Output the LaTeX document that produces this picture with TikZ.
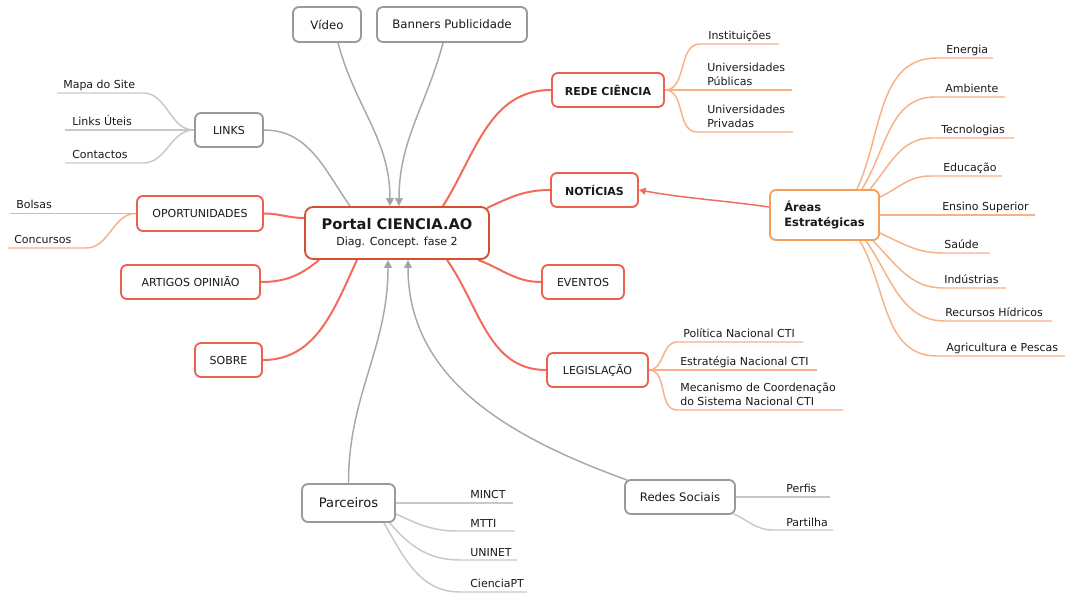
\documentclass[tikz,border=0pt]{standalone}
\usepackage{fontspec}
\setmainfont{DejaVu Sans}
\usetikzlibrary{arrows.meta,calc}
\definecolor{redln}{HTML}{F26B5B}
\definecolor{redbd}{HTML}{EC604E}
\definecolor{ctrbd}{HTML}{D4512F}
\definecolor{graybd}{HTML}{9A9A9A}
\definecolor{grayln}{HTML}{A8A8A8}
\definecolor{grayleaf}{HTML}{C8C8C8}
\definecolor{orgbd}{HTML}{F4A05C}
\definecolor{orgln}{HTML}{F6B187}
\pgfdeclarelayer{bg}\pgfsetlayers{bg,main}
% #1 style, #2 start, #3 out angle, #4 name, #5 curve end x, #6 line end x, #7 line y
\newcommand{\twig}[7]{%
  \coordinate (#4s) at (#5,#7);
  \coordinate (#4e) at (#6,#7);
  \draw[#1] (#2) to[out=#3,in=180] (#4s) -- (#4e);}
\newcommand{\twigL}[6]{%
  \coordinate (#3s) at (#4,#6);
  \coordinate (#3e) at (#5,#6);
  \draw[#1] (#2) to[out=180,in=0] (#3s) -- (#3e);}
\begin{document}
\begin{tikzpicture}[x=0.75pt,y=-0.75pt,
  every node/.style={font=\fontsize{8.25}{10.5}\selectfont, text=black!90},
  box/.style={draw, rounded corners=4.5pt, fill=white, line width=1.4pt, inner sep=0pt, align=center},
  sz/.style 2 args={minimum width=#1*0.75pt, minimum height=#2*0.75pt},
  rbox/.style={box, draw=redbd},
  gbox/.style={box, draw=graybd},
  obox/.style={box, draw=orgbd},
  leaf/.style={anchor=base west, inner sep=0pt, align=left},
  rln/.style={draw=redln, line width=1.5pt},
  gln/.style={draw=grayln, line width=1.1pt},
  garr/.style={draw=grayln, line width=1.1pt, -{Triangle[length=6pt,width=6pt,fill=graybd]}},
  rarr/.style={draw=redln, line width=1.1pt, -{Triangle[length=5pt,width=5pt]}},
  gtw/.style={draw=grayleaf, line width=1.1pt},
  otw/.style={draw=orgln, line width=1.1pt},
  big/.style={font=\fontsize{8.8}{10.5}\selectfont},
  bold/.style={font=\fontsize{8.25}{10.5}\selectfont\bfseries}
]
\useasboundingbox (0,0) rectangle (1067,596);

% main boxes
\node[box, draw=ctrbd, sz={184}{52}, rounded corners=6pt] (ctr) at (397,233)
  {{\fontsize{11}{13}\selectfont\bfseries Portal CIENCIA.AO}\\[2pt]{\fontsize{8.3}{10}\selectfont Diag. Concept. fase 2}};
\node[gbox, sz={68}{35}, big] (vid) at (327,24.5) {Vídeo};
\node[gbox, sz={150}{35}, big] (ban) at (452,24.5) {Banners Publicidade};
\node[gbox, sz={68}{34}] (links) at (229,130) {LINKS};
\node[rbox, sz={126}{35}] (opo) at (200,213.5) {OPORTUNIDADES};
\node[rbox, sz={139}{34}] (art) at (190.5,282) {ARTIGOS OPINIÃO};
\node[rbox, sz={67}{34}] (sob) at (228.5,360) {SOBRE};
\node[rbox, sz={112}{34}, bold] (rede) at (608,90) {REDE CIÊNCIA};
\node[rbox, sz={87}{34}, bold] (not) at (594.5,190) {NOTÍCIAS};
\node[rbox, sz={82}{34}] (eve) at (583,282) {EVENTOS};
\node[rbox, sz={101}{34}] (leg) at (597.5,370) {LEGISLAÇÃO};
\node[obox, sz={109}{50}, font=\fontsize{8.6}{11}\selectfont\bfseries, align=left] (are) at (824.5,215) {Áreas\\Estratégicas};
\node[gbox, sz={93}{38}, font=\fontsize{9.8}{12}\selectfont] (par) at (348.5,503) {Parceiros};
\node[gbox, sz={110}{34}, big] (red) at (680,497) {Redes Sociais};

% leaf texts
\node[leaf] (tmap) at (63,88) {Mapa do Site};
\node[leaf] (tlin) at (72,125) {Links Úteis};
\node[leaf] (tcon) at (72,158) {Contactos};
\node[leaf] (tbol) at (16,208) {Bolsas};
\node[leaf] (tcnc) at (14,243) {Concursos};
\node[leaf] (tins) at (708,39.5) {Instituições};
\node[leaf] (tupu) at (707,85) {Universidades\\Públicas};
\node[leaf] (tupr) at (707,127) {Universidades\\Privadas};
\node[leaf] (tene) at (946,53) {Energia};
\node[leaf] (tamb) at (945,92) {Ambiente};
\node[leaf] (ttec) at (941,133) {Tecnologias};
\node[leaf] (tedu) at (943,171) {Educação};
\node[leaf] (tens) at (942,210) {Ensino Superior};
\node[leaf] (tsau) at (944,248) {Saúde};
\node[leaf] (tind) at (944,283) {Indústrias};
\node[leaf] (trec) at (945,316) {Recursos Hídricos};
\node[leaf] (tagr) at (946,351) {Agricultura e Pescas};
\node[leaf] (tpol) at (683,337) {Política Nacional CTI};
\node[leaf] (test) at (680,365) {Estratégia Nacional CTI};
\node[leaf] (tmec) at (680,405) {Mecanismo de Coordenação\\do Sistema Nacional CTI};
\node[leaf] (tmin) at (470,498) {MINCT};
\node[leaf] (tmtt) at (470,527) {MTTI};
\node[leaf] (tuni) at (470,556) {UNINET};
\node[leaf] (tcpt) at (470,587) {CienciaPT};
\node[leaf] (tper) at (786,492) {Perfis};
\node[leaf] (tprt) at (786,526) {Partilha};

\begin{pgfonlayer}{bg}
% main connectors
\draw[rln] ($(ctr.north)+(46,0)$) to[out=58,in=180] (rede.west);
\draw[rln] ($(ctr.north east)+(-3,2)$) to[out=25,in=180] (not.west);
\draw[rln] ($(ctr.south)+(81,0)$) to[out=-20,in=180] (eve.west);
\draw[rln] ($(ctr.south)+(50,0)$) to[out=-55,in=180] (leg.west);
\draw[rln] ($(ctr.west)+(0,-15)$) to[out=180,in=0] (opo.east);
\draw[rln] ($(ctr.south west)+(15,0)$) to[out=-140,in=0] (art.east);
\draw[rln] ($(ctr.south)+(-40,0)$) to[out=-115,in=0] (sob.east);
\draw[gln] (links.east) to[out=0,in=125] ($(ctr.north)+(-47,0)$);
\draw[garr] ($(vid.south)+(11,0)$) to[out=-75,in=90] ($(ctr.north)+(-7,0)$);
\draw[garr] ($(ban.south)+(-9,0)$) to[out=-105,in=90] ($(ctr.north)+(2,0)$);
\draw[garr] (par.north) to[out=90,in=-90] ($(ctr.south)+(-9,0)$);
\draw[garr] ($(red.north west)+(3,1)$) to[out=160,in=-90] ($(ctr.south)+(11,0)$);
\draw[rarr] ($(are.west)+(0,-8)$) to[out=172,in=-10] (not.east);

% LINKS leaves
\twigL{gtw}{links.west}{map}{143}{57}{93}
\twigL{gtw}{links.west}{lin}{180}{65}{130}
\twigL{gtw}{links.west}{con}{143}{65}{163}
% OPORTUNIDADES leaves
\twigL{otw}{opo.west}{bol}{120}{10}{213.5}
\twigL{otw}{opo.west}{cnc}{86}{8}{248}
% REDE CIENCIA leaves
\twig{otw}{rede.east}{0}{ins}{700}{779}{44}
\twig{otw}{rede.east}{0}{upu}{680}{792}{90}
\twig{otw}{rede.east}{0}{upr}{697}{793}{132}
% AREAS leaves
\twig{otw}{$(are.north)+(32.5,0)$}{65}{ene}{937}{993}{58}
\twig{otw}{$(are.north)+(37.5,0)$}{58}{amb}{935}{1005}{97}
\twig{otw}{$(are.north)+(45.5,0)$}{50}{tec}{932}{1014}{138}
\twig{otw}{$(are.east)+(0,-18)$}{25}{edu}{930}{1002}{176}
\twig{otw}{are.east}{0}{ens}{900}{1035}{215}
\twig{otw}{$(are.east)+(0,18)$}{-25}{sau}{943}{990}{253}
\twig{otw}{$(are.south)+(48.5,0)$}{-45}{ind}{943}{1006}{288}
\twig{otw}{$(are.south)+(41.5,0)$}{-55}{rec}{945}{1052}{321}
\twig{otw}{$(are.south)+(35.5,0)$}{-60}{agr}{937}{1065}{356}
% LEGISLACAO leaves
\twig{otw}{leg.east}{0}{pol}{677}{803}{342}
\twig{otw}{leg.east}{0}{est}{660}{817}{370}
\twig{otw}{leg.east}{0}{mec}{677}{843}{410}
% PARCEIROS leaves
\twig{gtw}{par.east}{0}{min}{410}{513}{503}
\twig{gtw}{$(par.south east)+(-2,-10)$}{-25}{mtt}{457}{515}{531}
\twig{gtw}{$(par.south east)+(-7,-1)$}{-50}{uni}{460}{517}{560}
\twig{gtw}{$(par.south east)+(-12,0)$}{-60}{cpt}{460}{527}{592}
% REDES SOCIAIS leaves
\twig{gtw}{red.east}{0}{per}{750}{830}{497}
\twig{gtw}{$(red.south east)+(-2,-1)$}{-25}{prt}{773}{833}{530}
\end{pgfonlayer}
\end{tikzpicture}
\end{document}
